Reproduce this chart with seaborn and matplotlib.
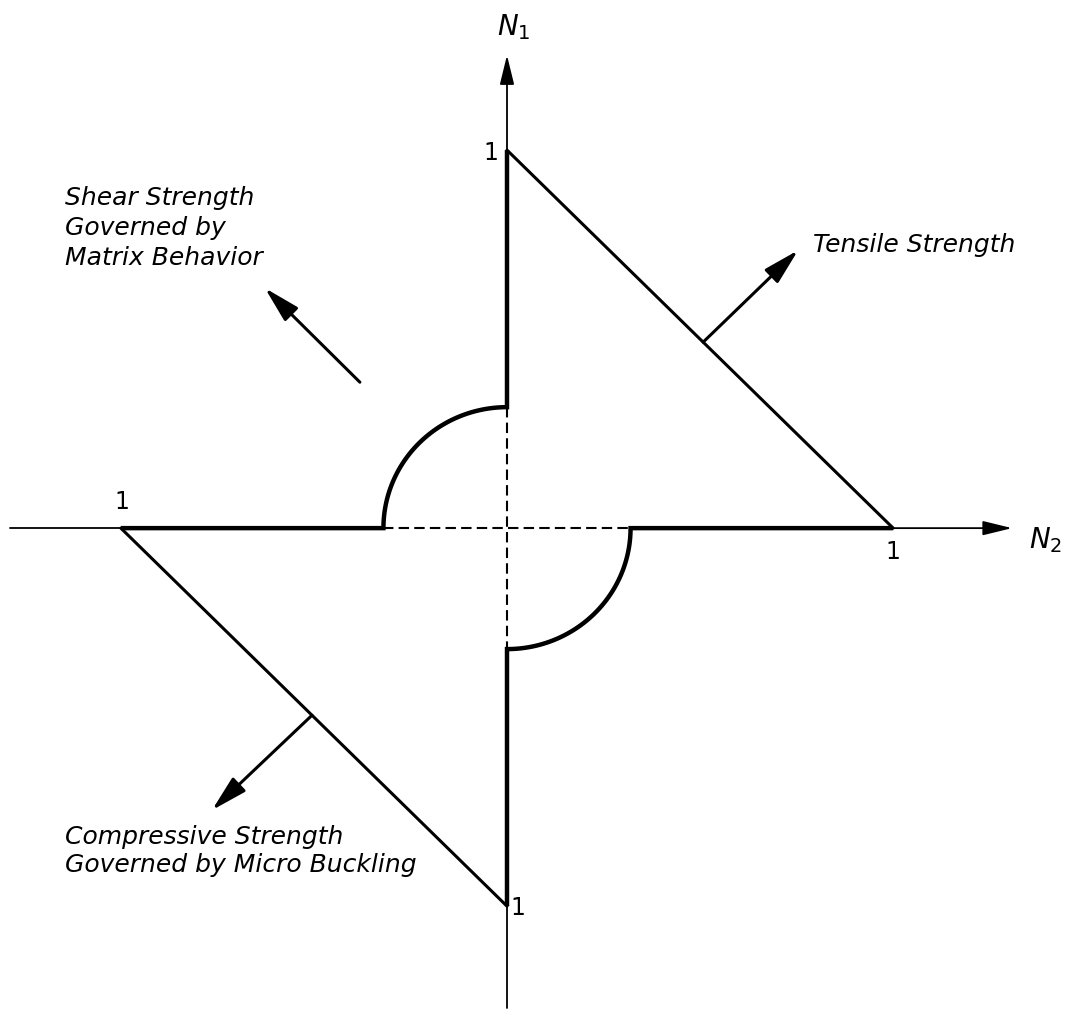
import numpy as np
import pandas as pd
import seaborn as sns
import matplotlib.pyplot as plt

# Resistencias normalizadas (tracción / compresión) en cada dirección
n1_strength = [1.0, -1.0]      # N1: tracción, compresión
n2_strength = [1.0, -1.0]      # N2: tracción, compresión
shear_radius = 0.32            # zona gobernada por la matriz (cortante)
tick_labels = ["1", "1", "1", "1"]

sns.set_style("white")
plt.rcParams['font.family'] = ['DejaVu Sans']

fig = plt.figure(figsize=(10.75, 10.09), dpi=100)
ax = fig.add_axes([0, 0, 1, 1])

t1, c1 = n1_strength
t2, c2 = n2_strength
r = shear_radius

# Arcos de cuarto de círculo
th_a = np.linspace(np.pi / 2, np.pi, 60)
th_b = np.linspace(1.5 * np.pi, 2 * np.pi, 60)

seg_a = pd.DataFrame({
    "N2": np.concatenate([[0, 0], r * np.cos(th_a), [c2]]),
    "N1": np.concatenate([[t1, r], r * np.sin(th_a), [0]]),
})
seg_b = pd.DataFrame({
    "N2": np.concatenate([[0, 0], r * np.cos(th_b), [t2]]),
    "N1": np.concatenate([[c1, -r], r * np.sin(th_b), [0]]),
})
diag_t = pd.DataFrame({"N2": [t2, 0], "N1": [0, t1]})
diag_c = pd.DataFrame({"N2": [c2, 0], "N1": [0, c1]})

bold = dict(color="black", lw=3.2, sort=False, estimator=None, ax=ax,
            solid_capstyle="butt", solid_joinstyle="miter")
sns.lineplot(data=seg_a, x="N2", y="N1", **bold)
sns.lineplot(data=seg_b, x="N2", y="N1", **bold)
thin = dict(color="black", lw=2.2, sort=False, estimator=None, ax=ax)
sns.lineplot(data=diag_t, x="N2", y="N1", **thin)
sns.lineplot(data=diag_c, x="N2", y="N1", **thin)

# Ejes (líneas finas) y tramos punteados en el origen
ax.plot([-1.288, c2], [0, 0], color="black", lw=1.3)
ax.plot([0, 0], [c1, -1.27], color="black", lw=1.3)
ax.plot([-r, r], [0, 0], color="black", lw=1.5, ls=(0, (5, 2.5)))
ax.plot([0, 0], [r, -r], color="black", lw=1.5, ls=(0, (5, 2.5)))

axis_arrow = dict(arrowstyle="-|>,head_length=0.9,head_width=0.22",
                  mutation_scale=20, lw=1.3, color="black",
                  shrinkA=0, shrinkB=0)
ax.annotate("", xy=(1.308, 0), xytext=(t2, 0), arrowprops=axis_arrow)
ax.annotate("", xy=(0, 1.251), xytext=(0, t1), arrowprops=axis_arrow)

# Flechas de los modos de falla
fail_arrow = dict(arrowstyle="-|>,head_length=1.0,head_width=0.26",
                  mutation_scale=22, lw=2.2, color="black",
                  shrinkA=0, shrinkB=0)
ax.annotate("", xy=(0.754, 0.735), xytext=(0.508, 0.492), arrowprops=fail_arrow)
ax.annotate("", xy=(-0.627, 0.635), xytext=(-0.381, 0.386), arrowprops=fail_arrow)
ax.annotate("", xy=(-0.764, -0.746), xytext=(-0.505, -0.495), arrowprops=fail_arrow)

txt = dict(fontsize=18, style="italic", color="black")
ax.text(0.793, 0.749, "Tensile Strength", ha="left", va="center", **txt)
ax.text(-1.145, 0.794, "Shear Strength\nGoverned by\nMatrix Behavior",
        ha="left", va="center", linespacing=1.32, **txt)
ax.text(-1.145, -0.854, "Compressive Strength\nGoverned by Micro Buckling",
        ha="left", va="center", linespacing=1.22, **txt)

# Etiquetas de ejes y valores unitarios
lab = dict(ha="center", va="center", color="black")
ax.text(0.018, 1.325, "$N_1$", fontsize=20, **lab)
ax.text(1.394, -0.032, "$N_2$", fontsize=20, **lab)
ax.text(-0.041, 0.992, tick_labels[0], fontsize=17, **lab)
ax.text(1.0, -0.063, tick_labels[1], fontsize=17, **lab)
ax.text(-0.997, 0.069, tick_labels[2], fontsize=17, **lab)
ax.text(0.028, -1.005, tick_labels[3], fontsize=17, **lab)

ax.set_xlim(-1.313, 1.471)
ax.set_ylim(-1.272, 1.397)
ax.set_axis_off()

plt.savefig("out.png", dpi=100)
